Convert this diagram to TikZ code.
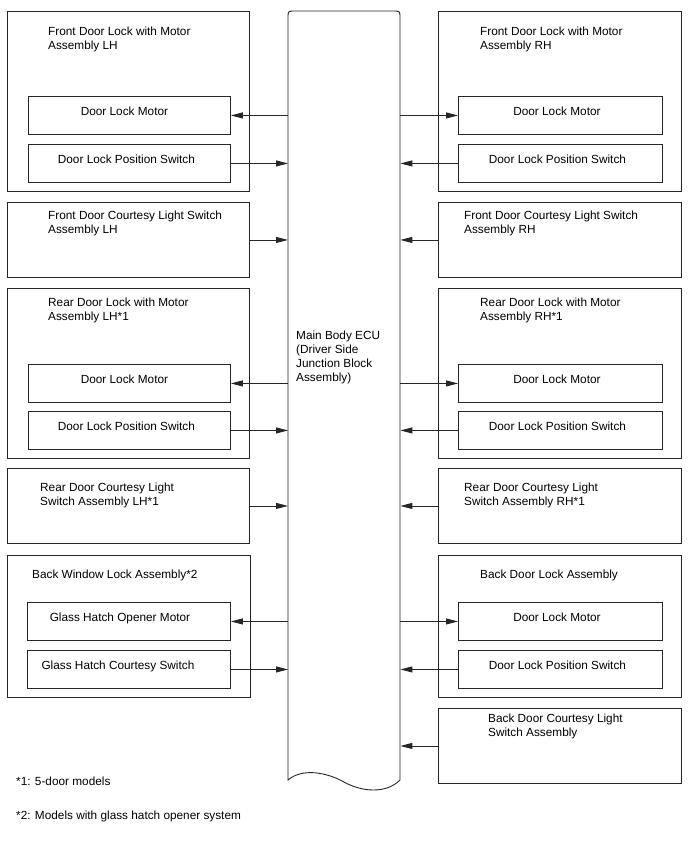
\documentclass[tikz,border=0pt]{standalone}
\usepackage{fontspec}
\setmainfont{Liberation Sans}
\usepackage{tikz}
\usetikzlibrary{arrows.meta,positioning,calc}

\begin{document}
\begin{tikzpicture}[x=1pt, y=-1pt, font=\fontsize{11.8}{14}\selectfont]
    \tikzstyle{unit} = [draw=black!85, line width=0.9pt, anchor=north west, inner sep=0pt]
    \tikzstyle{part} = [draw=black!85, line width=0.9pt, anchor=north west, inner xsep=0pt, inner ysep=0pt, text height=19pt, text depth=19pt, minimum height=38pt]
    \tikzstyle{title} = [anchor=north west, align=left, inner sep=0pt]
    \tikzstyle{sig} = [draw=black!85, line width=0.9pt, -{Triangle[length=12pt,width=6pt]}]
    \useasboundingbox (0,0) rectangle (688,852);

    % main body ECU
    \node[inner sep=0pt, minimum width=112pt, minimum height=769pt, anchor=north west] (ecu) at (288,11) {};
    \draw[draw=black!85, line width=0.9pt] (288,780) -- (288,18) .. controls (288,11) .. (295,11) -- (393,11) .. controls (400,11) .. (400,18) -- (400,780)
        .. controls (386,794) and (362,792) .. (344,782) .. controls (326,772) and (302,768) .. (288,780) -- cycle;
    \node[title] (ecutxt) at (296,330.5) {Main Body ECU\\(Driver Side\\Junction Block\\Assembly)};

    % left side
    \node[unit, minimum width=242pt, minimum height=180pt] (flh) at (7,11) {};
    \node[title] (flhT) at (48,27) {Front Door Lock with Motor\\Assembly LH};
    \node[part, minimum width=202pt] (flhM) at (28,96) {Door Lock Motor\kern10pt};
    \node[part, minimum width=202pt] (flhS) at (28,144) {Door Lock Position Switch\kern6pt};

    \node[unit, minimum width=242pt, minimum height=75pt] (fclh) at (7,202) {};
    \node[title] (fclhT) at (48,211) {Front Door Courtesy Light Switch\\Assembly LH};

    \node[unit, minimum width=242pt, minimum height=170pt] (rlh) at (7,288) {};
    \node[title] (rlhT) at (48,298) {Rear Door Lock with Motor\\Assembly LH*1};
    \node[part, minimum width=202pt] (rlhM) at (28,364) {Door Lock Motor\kern10pt};
    \node[part, minimum width=202pt] (rlhS) at (28,411) {Door Lock Position Switch\kern6pt};

    \node[unit, minimum width=242pt, minimum height=75pt] (rclh) at (7,468) {};
    \node[title] (rclhT) at (40,482.5) {Rear Door Courtesy Light\\Switch Assembly LH*1};

    \node[unit, minimum width=243pt, minimum height=142pt] (bwl) at (7,555) {};
    \node[title] (bwlT) at (32,570) {Back Window Lock Assembly*2};
    \node[part, minimum width=203pt] (bwlM) at (27,602) {Glass Hatch Opener Motor\kern18pt};
    \node[part, minimum width=203pt] (bwlS) at (27,650) {Glass Hatch Courtesy Switch\kern22pt};

    % right side
    \node[unit, minimum width=243pt, minimum height=180pt] (frh) at (438,11) {};
    \node[title] (frhT) at (480,27) {Front Door Lock with Motor\\Assembly RH};
    \node[part, minimum width=204pt] (frhM) at (458,96) {Door Lock Motor\kern7pt};
    \node[part, minimum width=204pt] (frhS) at (458,144) {Door Lock Position Switch\kern6pt};

    \node[unit, minimum width=243pt, minimum height=75pt] (fcrh) at (438,202) {};
    \node[title] (fcrhT) at (464,211) {Front Door Courtesy Light Switch\\Assembly RH};

    \node[unit, minimum width=243pt, minimum height=170pt] (rrh) at (438,288) {};
    \node[title] (rrhT) at (480,298) {Rear Door Lock with Motor\\Assembly RH*1};
    \node[part, minimum width=204pt] (rrhM) at (458,364) {Door Lock Motor\kern7pt};
    \node[part, minimum width=204pt] (rrhS) at (458,411) {Door Lock Position Switch\kern6pt};

    \node[unit, minimum width=243pt, minimum height=75pt] (rcrh) at (438,468) {};
    \node[title] (rcrhT) at (464,482.5) {Rear Door Courtesy Light\\Switch Assembly RH*1};

    \node[unit, minimum width=243pt, minimum height=142pt] (bdl) at (438,555) {};
    \node[title] (bdlT) at (480,570) {Back Door Lock Assembly};
    \node[part, minimum width=204pt] (bdlM) at (458,602) {Door Lock Motor\kern7pt};
    \node[part, minimum width=204pt] (bdlS) at (458,650) {Door Lock Position Switch\kern6pt};

    \node[unit, minimum width=243pt, minimum height=75pt] (bdc) at (438,708) {};
    \node[title] (bdcT) at (488,714) {Back Door Courtesy Light\\Switch Assembly};

    % notes
    \node[title] (note1) at (16,776.5) {*1: 5-door models};
    \node[title] (note2) at (16,810.5) {*2: Models with glass hatch opener system};

    % signals
    \draw[sig] (flhM.east -| ecu.west) -- (flhM.east);
    \draw[sig] (flhS.east) -- (flhS.east -| ecu.west);
    \draw[sig] (fclh.east) -- (fclh.east -| ecu.west);
    \draw[sig] (rlhM.east -| ecu.west) -- (rlhM.east);
    \draw[sig] (rlhS.east) -- (rlhS.east -| ecu.west);
    \draw[sig] (rclh.east) -- (rclh.east -| ecu.west);
    \draw[sig] (bwlM.east -| ecu.west) -- (bwlM.east);
    \draw[sig] (bwlS.east) -- (bwlS.east -| ecu.west);

    \draw[sig] (frhM.west -| ecu.east) -- (frhM.west);
    \draw[sig] (frhS.west) -- (frhS.west -| ecu.east);
    \draw[sig] (fcrh.west) -- (fcrh.west -| ecu.east);
    \draw[sig] (rrhM.west -| ecu.east) -- (rrhM.west);
    \draw[sig] (rrhS.west) -- (rrhS.west -| ecu.east);
    \draw[sig] (rcrh.west) -- (rcrh.west -| ecu.east);
    \draw[sig] (bdlM.west -| ecu.east) -- (bdlM.west);
    \draw[sig] (bdlS.west) -- (bdlS.west -| ecu.east);
    \draw[sig] (bdc.west) -- (bdc.west -| ecu.east);
\end{tikzpicture}
\end{document}
